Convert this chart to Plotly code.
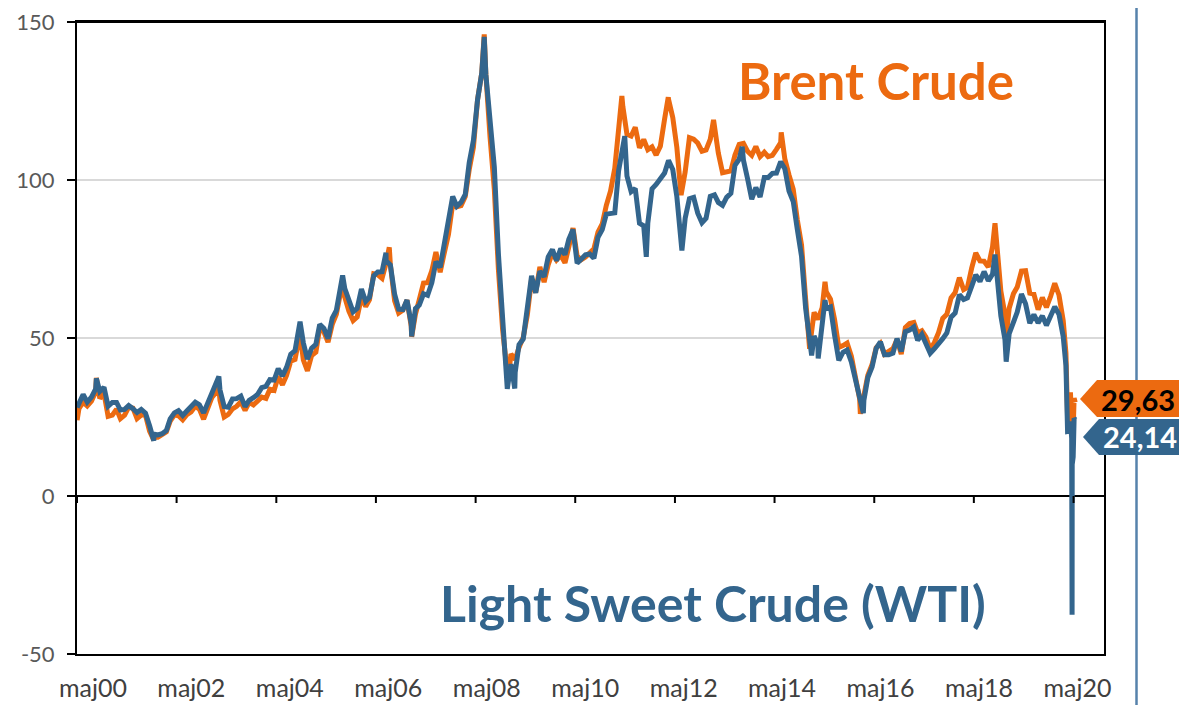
import datetime as dt
import plotly.graph_objects as go

# ---------------- data ----------------
# monthly values, 2000-05 .. 2020-02 (USD / barrel)
brent_monthly = [
    # 2000 (May-Dec)
    27.6, 29.7, 28.5, 30.0, 33.0, 30.9, 32.5, 25.2,
    # 2001
    25.6, 27.5, 24.5, 25.6, 28.1, 27.8, 24.5, 25.6, 25.6, 20.5, 18.7, 18.6,
    # 2002
    19.5, 20.3, 23.7, 25.7, 25.4, 24.1, 25.7, 26.6, 28.4, 27.5, 24.3, 28.0,
    # 2003
    31.2, 32.8, 30.3, 25.0, 25.8, 27.6, 28.4, 29.8, 27.1, 29.6, 28.8, 29.8,
    # 2004
    31.3, 30.9, 33.8, 33.4, 37.9, 35.2, 38.2, 42.7, 43.2, 49.8, 43.1, 39.6,
    # 2005
    44.5, 45.5, 53.1, 51.9, 48.7, 54.3, 57.5, 64.1, 62.9, 58.5, 55.5, 56.7,
    # 2006
    62.9, 60.0, 62.1, 70.3, 70.0, 68.9, 73.7, 73.2, 61.8, 57.9, 58.8, 62.0,
    # 2007
    53.7, 57.6, 62.1, 67.4, 67.5, 71.3, 77.2, 70.8, 77.1, 82.8, 92.5, 91.5,
    # 2008
    91.9, 94.8, 103.3, 110.4, 125.4, 133.9, 133.4, 113.4, 97.0, 71.6, 52.5, 40.4,
    # 2009
    44.9, 43.2, 47.0, 50.2, 57.3, 68.6, 64.4, 72.5, 67.7, 73.2, 77.0, 74.7,
    # 2010
    76.2, 73.8, 78.8, 84.8, 75.9, 74.8, 75.6, 77.1, 78.2, 83.5, 86.1, 92.0,
    # 2011
    96.5, 103.7, 114.6, 123.3, 114.5, 113.9, 116.7, 110.2, 112.8, 109.6, 110.5, 107.9,
    # 2012
    110.7, 119.3, 125.5, 119.8, 110.3, 95.2, 102.6, 113.4, 112.9, 111.7, 109.1, 109.5,
    # 2013
    112.9, 116.5, 108.5, 102.3, 102.6, 102.9, 107.9, 111.3, 111.6, 109.1, 107.8, 110.6,
    # 2014
    107.4, 108.8, 107.4, 107.8, 109.7, 111.8, 106.8, 101.6, 97.1, 87.4, 79.4, 62.3,
    # 2015
    47.8, 58.1, 55.9, 59.5, 64.6, 62.3, 55.9, 47.0, 47.6, 48.4, 44.3, 38.0,
    # 2016
    30.7, 32.2, 38.2, 41.6, 46.9, 48.3, 44.9, 45.8, 46.6, 49.5, 44.9, 53.3,
    # 2017
    54.6, 54.9, 51.6, 52.3, 50.3, 46.4, 48.5, 51.7, 56.2, 57.5, 62.7, 64.4,
    # 2018
    69.1, 65.3, 66.0, 72.1, 76.9, 74.4, 74.3, 72.5, 78.9, 81.0, 64.8, 57.4,
    # 2019
    59.4, 64.0, 66.1, 71.2, 71.3, 64.2, 63.9, 59.0, 62.8, 59.7, 63.2, 67.3,
    # 2020 (Jan-Feb)
    63.6, 55.5,
]
wti_monthly = [
    29.0, 32.1, 29.7, 31.3, 33.9, 33.1, 34.4, 28.4,
    29.6, 29.6, 27.2, 27.4, 28.6, 27.6, 26.4, 27.4, 26.2, 22.2, 19.6, 19.3,
    19.7, 20.7, 24.4, 26.3, 27.0, 25.5, 26.9, 28.4, 29.7, 28.9, 26.3, 29.4,
    32.9, 35.9, 33.6, 28.3, 28.1, 30.7, 30.8, 31.6, 28.3, 30.3, 31.1, 32.1,
    34.3, 34.7, 36.8, 36.7, 40.3, 38.0, 40.7, 44.9, 46.0, 53.1, 48.5, 43.3,
    46.8, 48.0, 54.3, 53.0, 49.8, 56.3, 58.7, 65.0, 65.6, 62.3, 58.3, 59.4,
    65.5, 61.6, 62.9, 69.7, 70.9, 71.0, 74.4, 73.1, 63.9, 59.1, 59.0, 62.0,
    54.5, 59.3, 60.4, 64.0, 63.5, 67.5, 74.1, 72.4, 79.9, 85.8, 94.8, 91.7,
    92.9, 95.4, 105.5, 112.6, 125.4, 133.9, 133.4, 116.7, 104.1, 76.6, 57.3, 41.1,
    41.7, 39.1, 47.9, 49.7, 59.0, 69.7, 64.3, 71.1, 69.4, 75.7, 78.0, 74.5,
    78.3, 76.4, 81.2, 84.3, 73.7, 75.3, 76.3, 76.6, 75.2, 81.9, 84.3, 89.2,
    89.6, 89.6, 102.9, 110.0, 101.3, 96.3, 97.3, 86.3, 85.5, 86.3, 97.2, 98.6,
    100.3, 102.2, 106.2, 103.3, 94.7, 82.3, 87.9, 94.1, 94.5, 89.5, 86.5, 87.9,
    94.8, 95.3, 92.9, 92.0, 94.5, 95.8, 104.6, 106.6, 106.3, 100.5, 93.9, 97.6,
    94.6, 100.8, 100.8, 102.1, 102.2, 105.8, 103.6, 96.5, 93.2, 84.4, 75.8, 59.3,
    47.2, 50.6, 47.8, 54.5, 59.3, 59.8, 50.9, 42.9, 45.5, 46.2, 42.4, 37.2,
    31.7, 30.3, 37.5, 40.8, 46.7, 48.8, 44.7, 44.7, 45.2, 49.8, 45.7, 52.0,
    52.5, 53.5, 49.3, 51.1, 48.5, 45.2, 46.6, 48.0, 49.8, 51.6, 56.6, 57.9,
    63.7, 62.2, 62.7, 66.3, 70.0, 67.9, 71.0, 68.1, 70.2, 70.8, 57.0, 49.5,
    51.4, 55.0, 58.2, 63.9, 60.8, 54.7, 57.4, 54.8, 57.0, 54.0, 57.0, 59.9,
    57.5, 50.5,
]

# individual daily extremes / 2020 crash
brent_extra_dates = ["2000-05-02", "2000-09-20", "2001-11-15", "2003-03-07", "2004-10-22",
                     "2005-08-30", "2006-08-07", "2007-01-18", "2008-07-03", "2008-12-24",
                     "2011-04-08", "2012-03-13", "2013-02-08", "2014-06-19", "2015-01-13",
                     "2015-05-06", "2016-01-20", "2018-10-03", "2018-12-24",
                     "2020-03-06", "2020-03-09", "2020-03-18", "2020-03-31", "2020-04-02",
                     "2020-04-08", "2020-04-21", "2020-04-28", "2020-05-05", "2020-05-13"]
brent_extra_values = [24.0, 37.4, 17.7, 34.2, 51.5,
                      67.7, 78.7, 50.4, 146.1, 36.6,
                      126.6, 126.2, 119.0, 115.1, 46.6,
                      67.8, 26.0, 86.3, 50.5,
                      45.3, 34.4, 24.9, 22.7, 29.9,
                      32.8, 19.3, 20.5, 31.0, 29.63]

wti_extra_dates = ["2000-05-02", "2000-09-20", "2001-11-15", "2003-03-07", "2004-10-22",
                   "2005-08-30", "2006-07-14", "2007-01-18", "2008-07-03", "2008-12-19",
                   "2009-02-12", "2011-04-29", "2011-10-04", "2012-06-21", "2013-09-06",
                   "2015-01-28", "2015-03-17", "2015-05-06", "2016-02-11", "2018-10-03",
                   "2018-12-24",
                   "2020-03-06", "2020-03-09", "2020-03-18", "2020-03-31", "2020-04-08",
                   "2020-04-17", "2020-04-20", "2020-04-21", "2020-04-28", "2020-05-05",
                   "2020-05-13"]
wti_extra_values = [28.0, 37.2, 17.5, 37.8, 55.2,
                    69.8, 77.0, 50.5, 145.3, 33.9,
                    34.0, 113.9, 75.7, 77.7, 110.5,
                    44.5, 43.5, 62.0, 26.2, 76.4,
                    42.5,
                    41.3, 31.1, 20.4, 20.5, 23.6,
                    18.3, -37.6, 10.0, 12.3, 24.6,
                    24.14]

brent_last_label = "29,63"
wti_last_label = "24,14"

tick_years = list(range(2000, 2021, 2))
tick_dates = [f"{y}-05-01" for y in tick_years]
tick_text = [f"maj{y % 100:02d}" for y in tick_years]
y_ticks = [-50, 0, 50, 100, 150]
y_tick_text = ["-50", "0", "50", "100", "150"]

# ---------------- build series ----------------
month_dates = []
y, m = 2000, 5
while (y, m) <= (2020, 2):
    month_dates.append(f"{y}-{m:02d}-15")
    m += 1
    if m > 12:
        m, y = 1, y + 1


def merge(dates_a, vals_a, dates_b, vals_b):
    pairs = sorted(zip(list(dates_a) + list(dates_b), list(vals_a) + list(vals_b)))
    return [p[0] for p in pairs], [p[1] for p in pairs]


brent_x, brent_y = merge(month_dates, brent_monthly, brent_extra_dates, brent_extra_values)
wti_x, wti_y = merge(month_dates, wti_monthly, wti_extra_dates, wti_extra_values)

ORANGE = "#EC6A10"
BLUE = "#33658D"
FRAME_BLUE = "#5682AB"
FONT = "Lato"

# the page body has an 8px margin: the figure occupies screen x 8..1187, y 8..705
OFF = 8
W, H = 1187 - OFF, 705 - OFF
L, R, T, B = 69, 83, 14, 51
PW, PH = W - L - R, H - T - B
DAYS_PER_PX = 365.25 / 49.85


def px(x):  # screen px -> paper
    return (x - OFF - L) / PW


def py(y):  # screen px -> paper
    return (H + OFF - B - y) / PH


# label anchors: slightly right of each tick (offset shrinking along the axis, as in the original)
label_dates = [
    (dt.date(yy, 5, 1) + dt.timedelta(days=(16 - 1.2 * k) * DAYS_PER_PX)).isoformat()
    for k, yy in enumerate(tick_years)
]

fig = go.Figure()
fig.add_trace(go.Scatter(x=brent_x, y=brent_y, mode="lines", name="Brent Crude",
                         line=dict(color=ORANGE, width=5)))
fig.add_trace(go.Scatter(x=wti_x, y=wti_y, mode="lines", name="Light Sweet Crude (WTI)",
                         line=dict(color=BLUE, width=5)))

shapes = []
# outer vertical blue rule on the right
shapes.append(dict(type="line", xref="paper", yref="paper", x0=px(1136.5), x1=px(1136.5),
                   y0=py(OFF), y1=py(705), line=dict(color=FRAME_BLUE, width=2.5)))
# top border of the plot frame + the 150 tick
shapes.append(dict(type="line", xref="paper", yref="paper", x0=0, x1=1, y0=1, y1=1,
                   line=dict(color="black", width=2)))
shapes.append(dict(type="line", xref="paper", yref="paper", x0=px(69), x1=0, y0=1, y1=1,
                   line=dict(color="black", width=2)))
# tick marks on the zero line
for d in tick_dates:
    shapes.append(dict(type="line", xref="x", yref="y", x0=d, x1=d,
                       ysizemode="pixel", yanchor=0, y0=0, y1=-7,
                       line=dict(color="black", width=2)))
# value tags
shapes.append(dict(type="path", xref="paper", yref="paper", fillcolor=ORANGE,
                   line=dict(width=0),
                   path=f"M {px(1080)},{py(399)} L {px(1097)},{py(380)} L {px(1190)},{py(380)} "
                        f"L {px(1190)},{py(417)} L {px(1097)},{py(417)} Z"))
shapes.append(dict(type="path", xref="paper", yref="paper", fillcolor=BLUE,
                   line=dict(width=0),
                   path=f"M {px(1083)},{py(437)} L {px(1099)},{py(419)} L {px(1190)},{py(419)} "
                        f"L {px(1190)},{py(455)} L {px(1099)},{py(455)} Z"))

annotations = [
    dict(text="<b>Brent Crude</b>", xref="paper", yref="paper", x=px(876), y=py(80),
         xanchor="center", yanchor="middle",
         showarrow=False, font=dict(family=FONT, size=51, color=ORANGE)),
    dict(text="<b>Light Sweet Crude (WTI)</b>", xref="paper", yref="paper", x=px(713), y=py(603),
         xanchor="center", yanchor="middle",
         showarrow=False, font=dict(family=FONT, size=50, color=BLUE)),
    dict(text=f"<b>{brent_last_label}</b>", xref="paper", yref="paper", x=px(1138), y=py(399),
         xanchor="center", yanchor="middle",
         showarrow=False, font=dict(family=FONT, size=29, color="black")),
    dict(text=f"<b>{wti_last_label}</b>", xref="paper", yref="paper", x=px(1140), y=py(437),
         xanchor="center", yanchor="middle",
         showarrow=False, font=dict(family=FONT, size=29, color="white")),
]

fig.update_layout(
    width=W, height=H, autosize=False,
    margin=dict(l=L, r=R, t=T, b=B, pad=0, autoexpand=False),
    paper_bgcolor="white", plot_bgcolor="white",
    showlegend=False,
    shapes=shapes, annotations=annotations,
    xaxis=dict(type="date", range=["2000-05-01", "2020-12-10"], automargin=False,
               tickvals=label_dates, ticktext=tick_text, ticks="",
               ticklabelstandoff=11, ticklabeloverflow="allow",
               showgrid=False, zeroline=False,
               showline=True, linecolor="black", linewidth=2, mirror=True,
               tickfont=dict(family=FONT, size=25, color="#404040")),
    yaxis=dict(range=[-50, 150], tickvals=y_ticks, ticktext=y_tick_text, automargin=False,
               ticks="outside", ticklen=8, tickwidth=2, tickcolor="black",
               ticklabelstandoff=8, ticklabeloverflow="allow",
               showgrid=True, gridcolor="#D9D9D9", gridwidth=1.5,
               zeroline=True, zerolinecolor="black", zerolinewidth=1.5,
               showline=True, linecolor="black", linewidth=2, mirror=True,
               tickfont=dict(family=FONT, size=22, color="#595959")),
)

fig.write_html("out.html")
